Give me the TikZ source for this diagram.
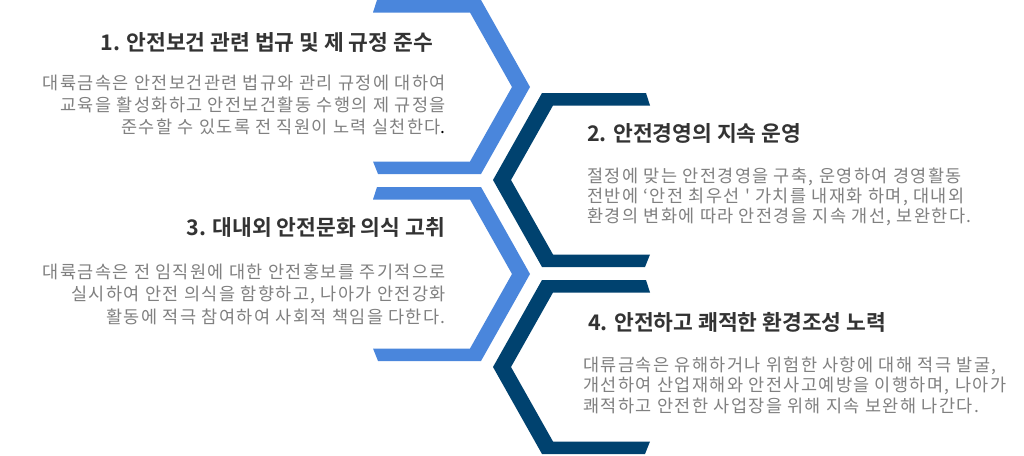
\documentclass[tikz,border=0pt]{standalone}
\usepackage{fontspec}
\newfontfamily\krbody[LetterSpace=8]{Noto Sans CJK KR}
\newfontfamily\krtitle{Noto Sans CJK KR Bold}
\definecolor{lightblue}{HTML}{4A86DC}
\definecolor{darkblue}{HTML}{00426F}
\definecolor{titlegray}{HTML}{333333}
\definecolor{bodygray}{HTML}{808080}
\tikzset{
  titletext/.style={inner sep=0pt, text=titlegray, font=\krtitle\fontsize{21.5}{24}\selectfont},
  bodytext/.style={inner sep=0pt, text=bodygray, font=\krbody\fontsize{17.5}{22}\selectfont},
}
\begin{document}
\begin{tikzpicture}[x=1pt,y=-1pt]
\useasboundingbox[fill=white] (0,0) rectangle (1024,455);
% light blue chevrons (pointing right)
\fill[lightblue] (377,0) -- (481,0) -- (530,87) -- (481,174) -- (378,174) -- (373,161.5) -- (470,161.5) -- (512,87) -- (470,12.5) -- (373,12.5) -- cycle;
\fill[lightblue] (377,187) -- (481,187) -- (530,274) -- (481,361) -- (378,361) -- (373,348.5) -- (470,348.5) -- (512,274) -- (470,199.5) -- (373,199.5) -- cycle;
% dark blue chevrons (pointing left)
\fill[darkblue] (646,93) -- (542,93) -- (493,180) -- (542,267) -- (645,267) -- (650,254.5) -- (553,254.5) -- (511,180) -- (553,105.5) -- (650,105.5) -- cycle;
\fill[darkblue] (646,280) -- (542,280) -- (493,367) -- (542,454) -- (645,454) -- (650,441.5) -- (553,441.5) -- (511,367) -- (553,292.5) -- (650,292.5) -- cycle;
% block 1
\node[titletext, anchor=east] (t1) at (433,42) {1. 안전보건 관련 법규 및 제 규정 준수};
\node[bodytext, anchor=east] (b1a) at (446,83) {대륙금속은 안전보건관련 법규와 관리 규정에 대하여};
\node[bodytext, anchor=east] (b1b) at (446,105) {교육을 활성화하고 안전보건활동 수행의 제 규정을};
\node[bodytext, anchor=east] (b1c) at (446,127) {준수할 수 있도록 전 직원이 노력 실천한다\textcolor{black}{.}};
% block 2
\node[titletext, anchor=west] (t2) at (587,133) {2. 안전경영의 지속 운영};
\node[bodytext, anchor=west] (b2a) at (587,177) {절정에 맞는 안전경영을 구축, 운영하여 경영활동};
\node[bodytext, anchor=west] (b2b) at (587,197) {전반에 ‘안전 최우선 ' 가치를 내재화 하며, 대내외};
\node[bodytext, anchor=west] (b2c) at (587,217) {환경의 변화에 따라 안전경을 지속 개선, 보완한다.};
% block 3
\node[titletext, anchor=east] (t3) at (445,227) {3. 대내외 안전문화 의식 고취};
\node[bodytext, anchor=east] (b3a) at (446,272) {대륙금속은 전 임직원에 대한 안전홍보를 주기적으로};
\node[bodytext, anchor=east] (b3b) at (446,295) {실시하여 안전 의식을 함향하고, 나아가 안전강화};
\node[bodytext, anchor=east] (b3c) at (446,317) {활동에 적극 참여하여 사회적 책임을 다한다.};
% block 4
\node[titletext, anchor=west] (t4) at (588,322) {4. 안전하고 쾌적한 환경조성 노력};
\node[bodytext, anchor=west] (b4a) at (583,366) {대류금속은 유해하거나 위험한 사항에 대해 적극 발굴,};
\node[bodytext, anchor=west] (b4b) at (583,386) {개선하여 산업재해와 안전사고예방을 이행하며, 나아가};
\node[bodytext, anchor=west] (b4c) at (583,406) {쾌적하고 안전한 사업장을 위해 지속 보완해 나간다.};
\end{tikzpicture}
\end{document}
